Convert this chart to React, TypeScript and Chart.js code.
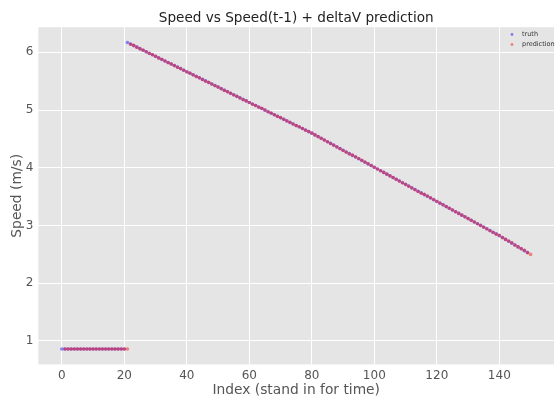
import React, { useEffect, useRef } from "react";
import { Chart, registerables } from "chart.js";

Chart.register(...registerables);

const TITLE = "Speed vs Speed(t-1) + deltaV prediction";
const X_LABEL = "Index (stand in for time)";
const Y_LABEL = "Speed (m/s)";
const X_TICKS = [0, 20, 40, 60, 80, 100, 120, 140];
const Y_TICKS = [1, 2, 3, 4, 5, 6];

const TRUTH_START = 0;
const TRUTH = [
  0.86, 0.86, 0.86, 0.86, 0.86, 0.86, 0.86, 0.86, 0.86, 0.86,
  0.86, 0.86, 0.86, 0.86, 0.86, 0.86, 0.86, 0.86, 0.86, 0.86,
  0.86,
  6.17, 6.143, 6.117, 6.09, 6.064, 6.037, 6.01, 5.984, 5.957, 5.931,
  5.904, 5.877, 5.851, 5.824, 5.797, 5.771, 5.744, 5.718, 5.691, 5.664,
  5.638, 5.611, 5.585, 5.558, 5.531, 5.505, 5.478, 5.451, 5.425, 5.398,
  5.372, 5.345, 5.318, 5.292, 5.265, 5.238, 5.212, 5.185, 5.159, 5.132,
  5.105, 5.079, 5.052, 5.026, 4.999, 4.972, 4.946, 4.919, 4.892, 4.866,
  4.839, 4.813, 4.786, 4.759, 4.733, 4.706, 4.68, 4.653, 4.626, 4.6,
  4.57, 4.541, 4.511, 4.482, 4.452, 4.423, 4.393, 4.363, 4.334, 4.304,
  4.275, 4.245, 4.215, 4.186, 4.156, 4.127, 4.097, 4.068, 4.038, 4.008,
  3.979, 3.949, 3.92, 3.89, 3.861, 3.831, 3.801, 3.772, 3.742, 3.713,
  3.683, 3.653, 3.624, 3.594, 3.565, 3.535, 3.506, 3.476, 3.446, 3.417,
  3.387, 3.358, 3.328, 3.299, 3.269, 3.239, 3.21, 3.18, 3.151, 3.121,
  3.091, 3.062, 3.032, 3.003, 2.973, 2.944, 2.914, 2.884, 2.855, 2.825,
  2.793, 2.76, 2.728, 2.695, 2.663, 2.63, 2.598, 2.565, 2.533,
];

const PRED_START = 1;
const PREDICTION = [
  0.86, 0.86, 0.86, 0.86, 0.86, 0.86, 0.86, 0.86, 0.86, 0.86,
  0.86, 0.86, 0.86, 0.86, 0.86, 0.86, 0.86, 0.86, 0.86, 0.86,
  0.86,
  6.14, 6.12, 6.09, 6.06, 6.04, 6.01, 5.98, 5.96, 5.93,
  5.9, 5.88, 5.85, 5.82, 5.8, 5.77, 5.74, 5.72, 5.69, 5.66,
  5.64, 5.61, 5.58, 5.56, 5.53, 5.5, 5.48, 5.45, 5.42, 5.4,
  5.37, 5.34, 5.32, 5.29, 5.26, 5.24, 5.21, 5.18, 5.16, 5.13,
  5.1, 5.08, 5.05, 5.03, 5.0, 4.97, 4.95, 4.92, 4.89, 4.87,
  4.84, 4.81, 4.79, 4.76, 4.73, 4.71, 4.68, 4.65, 4.63, 4.6,
  4.57, 4.54, 4.51, 4.48, 4.45, 4.42, 4.39, 4.36, 4.33, 4.3,
  4.27, 4.24, 4.22, 4.19, 4.16, 4.13, 4.1, 4.07, 4.04, 4.01,
  3.98, 3.95, 3.92, 3.89, 3.86, 3.83, 3.8, 3.77, 3.74, 3.71,
  3.68, 3.65, 3.62, 3.59, 3.56, 3.54, 3.51, 3.48, 3.45, 3.42,
  3.39, 3.36, 3.33, 3.3, 3.27, 3.24, 3.21, 3.18, 3.15, 3.12,
  3.09, 3.06, 3.03, 3.0, 2.97, 2.94, 2.91, 2.88, 2.85, 2.83,
  2.79, 2.76, 2.73, 2.7, 2.66, 2.63, 2.6, 2.57, 2.53, 2.5,
];

const FONT = "'DejaVu Sans', sans-serif";
const TRUTH_COLOR = "rgba(0,0,255,0.45)";
const PRED_COLOR = "rgba(255,0,0,0.45)";

export default function App() {
  const ref = useRef<HTMLCanvasElement | null>(null);

  useEffect(() => {
    if (!ref.current) return;
    const all = TRUTH.concat(PREDICTION);
    const yMinD = Math.min(...all);
    const yMaxD = Math.max(...all);
    const yPad = (yMaxD - yMinD) * 0.05;
    const xMinD = TRUTH_START;
    const xMaxD = PRED_START + PREDICTION.length - 1;
    const xPad = (xMaxD - xMinD) * 0.05;

    const bgPlugin = {
      id: "bg",
      beforeDraw(chart: any) {
        const { ctx, chartArea: a } = chart;
        ctx.save();
        ctx.fillStyle = "#ffffff";
        ctx.fillRect(0, 0, chart.width, chart.height);
        ctx.fillStyle = "#E5E5E5";
        ctx.fillRect(a.left, a.top, a.right - a.left, a.bottom - a.top);
        ctx.restore();
      },
      afterDraw(chart: any) {
        const { ctx, chartArea: a } = chart;
        ctx.save();
        ctx.fillStyle = "#222222";
        ctx.font = `13.6px ${FONT}`;
        ctx.textAlign = "center";
        ctx.textBaseline = "alphabetic";
        ctx.fillText(TITLE, (a.left + a.right) / 2, 22);
        const items = [
          { label: "truth", color: TRUTH_COLOR },
          { label: "prediction", color: PRED_COLOR },
        ];
        ctx.font = `6.5px ${FONT}`;
        ctx.textAlign = "left";
        ctx.textBaseline = "middle";
        items.forEach((it, i) => {
          const y = 34.5 + i * 10;
          ctx.fillStyle = it.color;
          ctx.beginPath();
          ctx.arc(512, y, 1.4, 0, Math.PI * 2);
          ctx.fill();
          ctx.fillStyle = "#333333";
          ctx.fillText(it.label, 522, y);
        });
        ctx.restore();
      },
    };

    const chart = new Chart(ref.current, {
      type: "scatter",
      data: {
        datasets: [
          {
            label: "truth",
            data: TRUTH.map((v, i) => ({ x: TRUTH_START + i, y: v })),
            backgroundColor: TRUTH_COLOR,
            borderWidth: 0,
            pointRadius: 1.8,
            order: 2,
          },
          {
            label: "prediction",
            data: PREDICTION.map((v, i) => ({ x: PRED_START + i, y: v })),
            backgroundColor: PRED_COLOR,
            borderWidth: 0,
            pointRadius: 1.8,
            order: 1,
          },
        ],
      },
      options: {
        responsive: false,
        animation: false,
        devicePixelRatio: 1,
        layout: { padding: { top: 27.2, left: 0, right: 0, bottom: 0 } },
        plugins: {
          legend: { display: false },
          title: { display: false },
          tooltip: { enabled: false },
        },
        scales: {
          x: {
            type: "linear",
            min: xMinD - xPad,
            max: xMaxD + xPad,
            afterBuildTicks: (s: any) => {
              s.ticks = X_TICKS.map((v) => ({ value: v }));
            },
            afterFit: (s: any) => {
              s.height = 34.6;
            },
            grid: { color: "#ffffff", lineWidth: 1, drawTicks: false },
            border: { display: false },
            ticks: {
              color: "#555555",
              font: { family: FONT, size: 12 },
              padding: 4,
              maxRotation: 0,
            },
            title: {
              display: true,
              text: X_LABEL,
              color: "#555555",
              font: { family: FONT, size: 13.8 },
              padding: { top: 0, bottom: 0.3 },
            },
          },
          y: {
            type: "linear",
            min: yMinD - yPad,
            max: yMaxD + yPad,
            afterBuildTicks: (s: any) => {
              s.ticks = Y_TICKS.map((v) => ({ value: v }));
            },
            afterFit: (s: any) => {
              s.width = 38.4;
            },
            grid: { color: "#ffffff", lineWidth: 1, drawTicks: false },
            border: { display: false },
            ticks: {
              color: "#555555",
              font: { family: FONT, size: 12 },
              padding: 5,
            },
            title: {
              display: true,
              text: Y_LABEL,
              color: "#555555",
              font: { family: FONT, size: 13.8 },
              padding: { top: 9.5, bottom: 0 },
            },
          },
        },
      },
      plugins: [bgPlugin],
    });
    return () => chart.destroy();
  }, []);

  return (
    <div
      style={{
        position: "absolute",
        left: 0,
        top: 0,
        width: 556,
        height: 399,
        overflow: "hidden",
        background: "#fff",
      }}
    >
      <canvas ref={ref} width={558} height={399} style={{ width: 558, height: 399 }} />
    </div>
  );
}
